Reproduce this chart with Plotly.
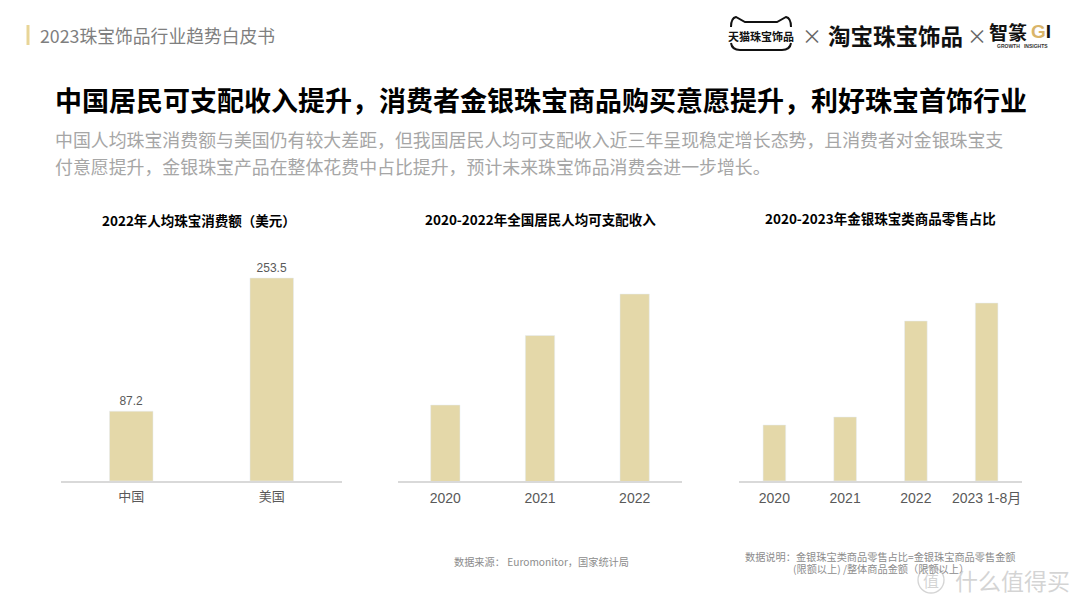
import plotly.graph_objects as go

# ---------------- data ----------------
c1_categories = ["中国", "美国"]
c1_values = [87.2, 253.5]
c1_labels = ["87.2", "253.5"]

c2_categories = ["2020", "2021", "2022"]
c2_values = [32189, 35128, 36883]  # 元

c3_categories = ["2020", "2021", "2022", "2023 1-8月"]
c3_values = [0.56, 0.64, 1.60, 1.78]  # 估计值（相对占比）

BAR = "#E4D8A9"
AX = "#D9D9D9"
TICK = "#595959"
CJK = "Noto Sans CJK SC"
W, H = 1080, 607

def px(x):
    return x / W

def py(y):
    return 1 - y / H

fig = go.Figure()

fig.add_trace(go.Bar(x=c1_categories, y=c1_values, width=0.31, marker_color=BAR,
                     text=c1_labels, textposition="outside", cliponaxis=False,
                     textfont=dict(size=12, color=TICK, family="Liberation Sans"),
                     xaxis="x", yaxis="y", hoverinfo="skip"))
fig.add_trace(go.Bar(x=c2_categories, y=c2_values, width=0.31, marker_color=BAR,
                     xaxis="x2", yaxis="y2", hoverinfo="skip"))
fig.add_trace(go.Bar(x=c3_categories, y=c3_values, width=0.32, marker_color=BAR,
                     xaxis="x3", yaxis="y3", hoverinfo="skip"))

ydom = [py(481), py(260)]
def xax(dom, anchor, size=14, fam="Liberation Sans, " + CJK):
    return dict(domain=dom, anchor=anchor, showgrid=False, zeroline=False, showline=True,
                linecolor=AX, linewidth=1.5, ticks="", ticklabelstandoff=3,
                tickfont=dict(size=size, color=TICK, family=fam), fixedrange=True)
ycommon = dict(visible=False, showgrid=False, zeroline=False, fixedrange=True, domain=ydom)

fig.update_layout(
    width=W, height=H, margin=dict(l=0, r=0, t=0, b=0),
    paper_bgcolor="white", plot_bgcolor="white", showlegend=False,
    xaxis=xax([px(61), px(342)], "y", 13, CJK),
    yaxis=dict(range=[0, 253.5 * 221 / 203], anchor="x", **ycommon),
    xaxis2=xax([px(398), px(682)], "y2"),
    yaxis2=dict(range=[28975, 28975 + 221 / 0.023647], anchor="x2", **ycommon),
    xaxis3=xax([px(739), px(1022)], "y3"),
    yaxis3=dict(range=[0, 2.21], anchor="x3", **ycommon),
)

ann = []
def txt(x, y, s, size, color, bold=False, family=CJK, xanchor="left", yanchor="middle"):
    ann.append(dict(x=px(x), y=py(y), xref="paper", yref="paper", text=("<b>%s</b>" % s) if bold else s,
                    showarrow=False, xanchor=xanchor, yanchor=yanchor,
                    font=dict(size=size, color=color, family=family)))

# header
txt(38, 35, "2023珠宝饰品行业趋势白皮书", 17.8, "#7F7F7F")
# main title
txt(53, 100, "中国居民可支配收入提升，消费者金银珠宝商品购买意愿提升，利好珠宝首饰行业", 27, "#000000", bold=True)
# subtitle
txt(53, 139, "中国人均珠宝消费额与美国仍有较大差距，但我国居民人均可支配收入近三年呈现稳定增长态势，且消费者对金银珠宝支", 17.9, "#A6A6A6")
txt(53, 166, "付意愿提升，金银珠宝产品在整体花费中占比提升，预计未来珠宝饰品消费会进一步增长。", 17.9, "#A6A6A6")
# chart titles
txt(199, 220, "2022年人均珠宝消费额（美元）", 13.5, "#000000", bold=True, xanchor="center")
txt(540, 219, "2020-2022年全国居民人均可支配收入", 13.5, "#000000", bold=True, xanchor="center")
txt(880, 218, "2020-2023年金银珠宝类商品零售占比", 13.5, "#000000", bold=True, xanchor="center")
# footnotes
txt(452, 561, "数据来源： Euromonitor，国家统计局", 10.2, "#8C8C8C")
txt(743, 556, "数据说明：金银珠宝类商品零售占比=金银珠宝商品零售金额", 10.2, "#8C8C8C")
txt(791, 568, "(限额以上) /整体商品金额（限额以上）", 10.2, "#8C8C8C")
# logos
txt(761, 36, "<b>天猫珠宝饰品</b>", 11, "#111111", xanchor="center")
txt(812, 35, "×", 20, "#666666", xanchor="center")
txt(895, 35, "淘宝珠宝饰品", 22.5, "#111111", bold=True, xanchor="center")
txt(977, 35, "×", 20, "#666666", xanchor="center")
txt(1008, 32, "智篆", 19, "#111111", bold=True, xanchor="center")
txt(1029, 32, "<span style='color:#D9B56A'>G</span>I", 19, "#111111", bold=True, family="Liberation Sans")
txt(1022, 46, "GROWTH   INSIGHTS", 5, "#333333", bold=True, family="Liberation Sans", xanchor="center")
# watermark
txt(1012, 580, "什么值得买", 23, "rgba(170,170,170,0.5)", xanchor="center")
txt(931, 580, "值", 16, "rgba(170,170,170,0.5)", xanchor="center")
fig.update_layout(annotations=ann)

top_path = "M %f,%f Q %f,%f %f,%f L %f,%f L %f,%f L %f,%f Q %f,%f %f,%f" % (
    px(731), py(27), px(731), py(18), px(736), py(17),
    px(745), py(22), px(777), py(22), px(786), py(17),
    px(791), py(18), px(791), py(27))
bot_path = "M %f,%f Q %f,%f %f,%f L %f,%f Q %f,%f %f,%f" % (
    px(731), py(43), px(732), py(50), px(740), py(50),
    px(782), py(50), px(790), py(50), px(791), py(43))

shapes = [
    dict(type="line", xref="paper", yref="paper", x0=px(28), x1=px(28), y0=py(25), y1=py(45),
         line=dict(color="#E8D597", width=3)),
    dict(type="path", xref="paper", yref="paper", path=top_path, line=dict(color="#111111", width=2)),
    dict(type="path", xref="paper", yref="paper", path=bot_path, line=dict(color="#111111", width=2)),
    dict(type="circle", xref="paper", yref="paper", x0=px(918), x1=px(944), y0=py(593), y1=py(567),
         line=dict(color="rgba(170,170,170,0.5)", width=1.3)),
]
fig.update_layout(shapes=shapes)

fig.write_html("out.html", config={"displayModeBar": False},
               post_script="document.body.style.margin='0';document.body.style.overflow='hidden';")
